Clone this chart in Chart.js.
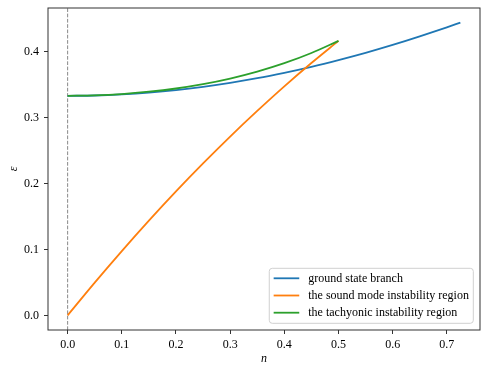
<!DOCTYPE html>
<html>
<head>
<meta charset="utf-8">
<script src="https://cdn.jsdelivr.net/npm/chart.js@4"></script>
<style>
  body { margin: 0; background: #fff; }
  canvas { display: block; }
</style>
</head>
<body>
<canvas id="grafico-ramos" width="489" height="374"></canvas>
<script>
  // valores
  const groundN = [0, 0.05, 0.1, 0.15, 0.2, 0.25, 0.3, 0.35, 0.4, 0.45, 0.5, 0.55, 0.6, 0.65, 0.7, 0.725];
  const groundE = [0.3333, 0.3338, 0.3355, 0.3382, 0.3420, 0.3470, 0.3530, 0.3600, 0.3682, 0.3773, 0.3875, 0.3985, 0.4105, 0.4235, 0.4373, 0.4444];
  const soundN = [0, 0.05, 0.1, 0.15, 0.2, 0.25, 0.3, 0.35, 0.4, 0.45, 0.5];
  const soundE = [0, 0.0497, 0.0976, 0.1438, 0.1882, 0.2307, 0.2715, 0.3104, 0.3477, 0.3831, 0.4167];
  const tachN = [0, 0.05, 0.1, 0.15, 0.2, 0.25, 0.3, 0.35, 0.4, 0.45, 0.5];
  const tachE = [0.3333, 0.3340, 0.3360, 0.3395, 0.3444, 0.3510, 0.3595, 0.3700, 0.3828, 0.3983, 0.4167];

  const xTicks = [0, 0.1, 0.2, 0.3, 0.4, 0.5, 0.6, 0.7];
  const yTicks = [0, 0.1, 0.2, 0.3, 0.4];
  const xMin = -0.03625, xMax = 0.76125;
  const yMin = -0.0222, yMax = 0.4666;

  const fonte = 'Liberation Serif, Times New Roman, serif';

  function pontos(ns, es) {
    return ns.map((n, i) => ({ x: n, y: es[i] }));
  }

  // moldura em volta da area do grafico
  const moldura = {
    id: 'moldura',
    afterDatasetsDraw(chart) {
      const { ctx, chartArea: a } = chart;
      ctx.save();
      ctx.strokeStyle = '#333';
      ctx.lineWidth = 1;
      ctx.strokeRect(a.left, a.top, a.right - a.left, a.bottom - a.top);
      ctx.restore();
    }
  };

  // legenda no canto inferior direito, dentro dos eixos
  const legendaDentro = {
    id: 'legendaDentro',
    afterDraw(chart) {
      const { ctx, chartArea: a } = chart;
      const itens = chart.data.datasets.filter(d => d.label);
      ctx.save();
      ctx.font = '12px ' + fonte;
      const larg = Math.max(...itens.map(d => ctx.measureText(d.label).width));
      const w = 4.4 + 25.6 + 9 + larg + 4.4;
      const h = 55;
      const x = a.right - 6.7 - w;
      const y = a.bottom - 6.7 - h;
      ctx.beginPath();
      ctx.roundRect(x, y, w, h, 3);
      ctx.fillStyle = 'rgba(255,255,255,0.8)';
      ctx.fill();
      ctx.strokeStyle = '#d0d0d0';
      ctx.lineWidth = 1;
      ctx.stroke();
      itens.forEach((d, i) => {
        const ly = y + 10 + i * 17.2;
        ctx.beginPath();
        ctx.moveTo(x + 4.4, ly);
        ctx.lineTo(x + 30, ly);
        ctx.strokeStyle = d.borderColor;
        ctx.lineWidth = 1.8;
        ctx.stroke();
        ctx.fillStyle = '#000';
        ctx.textBaseline = 'middle';
        ctx.fillText(d.label, x + 39, ly + 0.5);
      });
      ctx.restore();
    }
  };

  const ctxRamos = document.getElementById('grafico-ramos');

  new Chart(ctxRamos, {
    type: 'line',
    data: {
      datasets: [{
        label: '',
        data: [{ x: 0, y: yMin }, { x: 0, y: yMax }],
        borderColor: '#888',
        borderWidth: 1,
        borderDash: [3.7, 1.6],
        pointRadius: 0,
        order: 3
      }, {
        label: 'ground state branch',
        data: pontos(groundN, groundE),
        borderColor: '#1f77b4',
        borderWidth: 1.8,
        pointRadius: 0,
        cubicInterpolationMode: 'monotone',
        order: 2
      }, {
        label: 'the sound mode instability region',
        data: pontos(soundN, soundE),
        borderColor: '#ff7f0e',
        borderWidth: 1.8,
        pointRadius: 0,
        cubicInterpolationMode: 'monotone',
        order: 1
      }, {
        label: 'the tachyonic instability region',
        data: pontos(tachN, tachE),
        borderColor: '#2ca02c',
        borderWidth: 1.8,
        pointRadius: 0,
        cubicInterpolationMode: 'monotone',
        order: 0
      }]
    },
    options: {
      responsive: false,
      animation: false,
      layout: { padding: { top: 8, right: 9, left: 0, bottom: 0 } },
      plugins: {
        legend: { display: false },
        tooltip: { enabled: false }
      },
      scales: {
        x: {
          type: 'linear',
          min: xMin,
          max: xMax,
          afterBuildTicks: s => { s.ticks = xTicks.map(v => ({ value: v })); },
          afterFit: s => {
            s.height = 44;
            s.paddingLeft = 0;
            s.paddingRight = 0;
          },
          ticks: {
            font: { family: fonte, size: 12 },
            color: '#000',
            padding: 4,
            maxRotation: 0,
            autoSkip: false,
            callback: v => v.toFixed(1)
          },
          grid: { drawOnChartArea: false, tickLength: 4, color: '#333' },
          border: { display: false },
          title: {
            display: true,
            text: 'n',
            color: '#000',
            font: { family: fonte, size: 12, style: 'italic' },
            padding: { top: 0, bottom: 8 }
          }
        },
        y: {
          min: yMin,
          max: yMax,
          afterBuildTicks: s => { s.ticks = yTicks.map(v => ({ value: v })); },
          afterFit: s => {
            s.width = 48;
            s.paddingTop = 0;
            s.paddingBottom = 0;
          },
          ticks: {
            font: { family: fonte, size: 12 },
            color: '#000',
            padding: 5,
            autoSkip: false,
            callback: v => v.toFixed(1)
          },
          grid: { drawOnChartArea: false, tickLength: 4, color: '#333' },
          border: { display: false },
          title: {
            display: true,
            text: 'ε',
            color: '#000',
            font: { family: fonte, size: 12, style: 'italic' },
            padding: { top: 7, bottom: 0 }
          }
        }
      }
    },
    plugins: [moldura, legendaDentro]
  });
</script>
</body>
</html>
